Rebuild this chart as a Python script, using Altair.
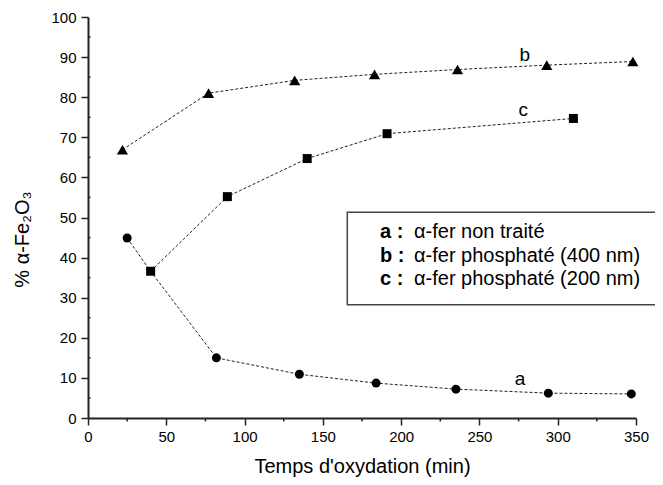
import altair as alt
import pandas as pd

# ---- data ----
a_x = [25, 40, 82, 135, 184, 235, 294, 347]
a_y = [44.9, 36.6, 15.0, 10.9, 8.7, 7.2, 6.2, 6.0]
a_marker = [True, False, True, True, True, True, True, True]  # point at 40 is hidden under the c square

b_x = [22, 77, 132, 183, 236, 293, 348]
b_y = [66.9, 81.0, 84.2, 85.7, 86.9, 88.0, 88.9]

c_x = [40, 89, 140, 191, 310]
c_y = [36.6, 55.2, 64.7, 70.9, 74.7]

series_names = ["a", "b", "c"]
series_shapes = ["circle", "triangle-up", "square"]
series_sizes = [81, 125, 81]

label_names = ["a", "b", "c"]
label_x = [276, 279, 278]
label_y = [9.7, 90.5, 76.7]

legend_keys = ["a :", "b :", "c :"]
legend_texts = ["α-fer non traité", "α-fer phosphaté (400 nm)", "α-fer phosphaté (200 nm)"]

x_ticks = list(range(0, 351, 50))
x_minor = list(range(25, 351, 50))
y_ticks = list(range(0, 101, 10))
y_minor = list(range(5, 101, 10))

x_title = "Temps d'oxydation (min)"
y_title = "% α-Fe₂O₃"

FONT = "Liberation Sans"
W, H = 548, 401
TOP = 9

# ---- tables ----
rows = []
for x, y, m in zip(a_x, a_y, a_marker):
    rows.append({"x": x, "y": y, "series": "a", "marker": m})
for x, y in zip(b_x, b_y):
    rows.append({"x": x, "y": y, "series": "b", "marker": True})
for x, y in zip(c_x, c_y):
    rows.append({"x": x, "y": y, "series": "c", "marker": True})
df = pd.DataFrame(rows)

xs = alt.Scale(domain=[0, 350], nice=False, zero=False)
ys = alt.Scale(domain=[0, 100], nice=False, zero=False)

X = alt.X("x:Q", scale=xs)
Y = alt.Y("y:Q", scale=ys)

lines = alt.Chart(df).mark_line(
    strokeDash=[3, 2], color="#222", strokeWidth=1
).encode(
    x=alt.X("x:Q", scale=xs, axis=alt.Axis(
        values=x_ticks, title=x_title, titleFontSize=20,
        titleX=W / 2, titleY=54, titleBaseline="alphabetic", titleAlign="center",
        labelPadding=4,
    )),
    y=alt.Y("y:Q", scale=ys, axis=alt.Axis(
        values=y_ticks, title=y_title, titleFontSize=20,
        titleX=-59.5, titleY=222, titleAngle=270, titleBaseline="alphabetic",
        titleAlign="center", labelPadding=5,
    )),
    detail="series:N",
    order="x:Q",
)

point_layers = []
for name, shp, sz in zip(series_names, series_shapes, series_sizes):
    point_layers.append(
        alt.Chart(df).transform_filter(
            (alt.datum.series == name) & (alt.datum.marker == True)
        ).mark_point(filled=True, color="black", opacity=1, shape=shp, size=sz).encode(
            x=X, y=Y,
        )
    )

lab_df = pd.DataFrame({"x": label_x, "y": label_y, "t": label_names})
labels = alt.Chart(lab_df).mark_text(
    font=FONT, fontSize=19, color="black", baseline="middle", align="center"
).encode(x=X, y=Y, text="t:N")

xm_df = pd.DataFrame({"x": x_minor})
x_minor_ticks = alt.Chart(xm_df).mark_rule(color="#222", strokeWidth=1.5).encode(
    x=X,
    y=alt.value(H),
    y2=alt.value(H + 3.5),
)
ym_df = pd.DataFrame({"y": y_minor})
y_minor_ticks = alt.Chart(ym_df).mark_rule(color="#222", strokeWidth=1.5).encode(
    y=Y,
    x=alt.value(0),
    x2=alt.value(2.5),
)

box = alt.Chart(pd.DataFrame({"k": [0]})).mark_rect(
    fillOpacity=0, stroke="#444", strokeWidth=1.5
).encode(
    x=alt.value(259.3), x2=alt.value(620),
    y=alt.value(195.3), y2=alt.value(287.7),
)

legend_layers = []
base_y = [221, 245, 268]
for key, txt, by in zip(legend_keys, legend_texts, base_y):
    ldf = pd.DataFrame({"key": [key], "txt": [txt]})
    legend_layers.append(
        alt.Chart(ldf).mark_text(font=FONT, fontSize=20, fontWeight="bold", color="black",
                                 align="left", baseline="alphabetic").encode(
            x=alt.value(292), y=alt.value(by), text="key:N")
    )
    legend_layers.append(
        alt.Chart(ldf).mark_text(font=FONT, fontSize=20, color="black",
                                 align="left", baseline="alphabetic").encode(
            x=alt.value(326), y=alt.value(by), text="txt:N")
    )

chart = alt.layer(
    lines, x_minor_ticks, y_minor_ticks, *point_layers, labels, box, *legend_layers
).properties(
    width=W, height=H,
    autosize=alt.AutoSizeParams(type="none"),
    padding={"left": 80, "top": TOP, "right": 19, "bottom": 469 - TOP - H},
    background="white",
).configure(
    font=FONT,
).configure_view(
    stroke=None,
).configure_axis(
    labelFontSize=15, titleFontSize=19, titleFontWeight="normal",
    labelFont=FONT, titleFont=FONT,
    tickSize=7, tickWidth=1.5, domainWidth=2, domainColor="#222", tickColor="#222",
    labelColor="black", titleColor="black", grid=False, labelFlush=False,
)

chart.save("out.html", embed_options={"renderer": "svg", "actions": False})
